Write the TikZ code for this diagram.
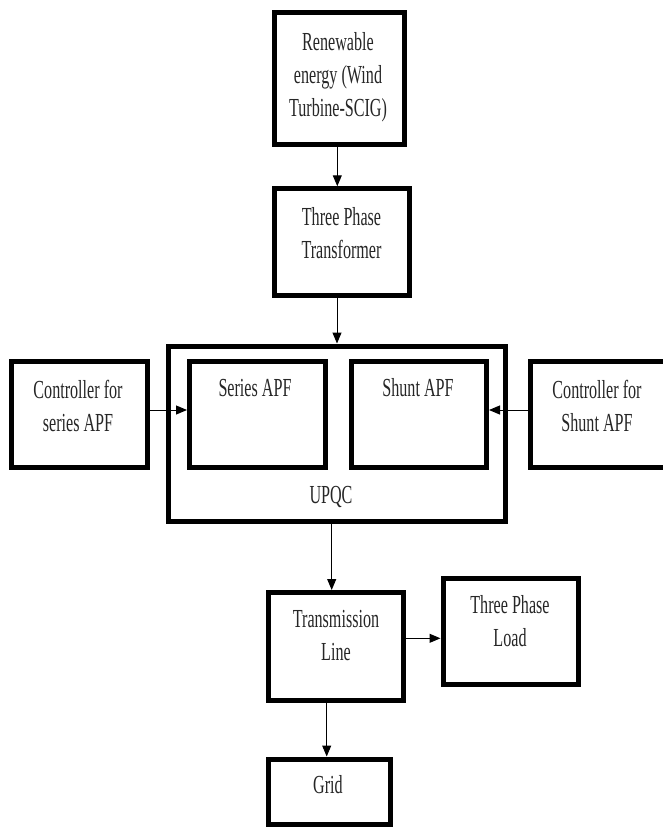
\documentclass[tikz,border=0pt]{standalone}
\usepackage{fontspec}
\setmainfont[FakeStretch=0.62]{Liberation Serif}
\usetikzlibrary{arrows.meta}
\begin{document}
\begin{tikzpicture}[x=1pt,y=-1pt,
  blk/.style={draw=black, line width=5pt, minimum width=#1, inner sep=0pt},
  lbl/.style={align=center, inner sep=0pt, text=black!85, font=\fontsize{26}{33}\selectfont},
  arr/.style={draw=black, line width=1pt, -{Triangle[length=11pt,width=9pt]}}]
\useasboundingbox (0,0) rectangle (662,827);
% boxes
\node[blk=130pt, minimum height=132pt] (ren) at (339,78) {};
\node[blk=135pt, minimum height=106.5pt] (tr) at (341.5,242) {};
\node[blk=336.5pt, minimum height=175pt] (upqc) at (337,433.5) {};
\node[blk=136pt, minimum height=106pt] (cs) at (79,414) {};
\node[blk=136pt, minimum height=106pt] (sapf) at (257.5,414) {};
\node[blk=135.5pt, minimum height=106pt] (shapf) at (418.75,414) {};
\node[blk=136pt, minimum height=106pt] (csh) at (598,414) {};
\node[blk=135pt, minimum height=107.5pt] (tl) at (336,646.25) {};
\node[blk=135pt, minimum height=106pt] (load) at (510.5,631) {};
\node[blk=121.5pt, minimum height=65.5pt] (grid) at (329.25,791.75) {};
% labels
\node[lbl] (renT) at (338,77) {Renewable\\energy (Wind\\Turbine-SCIG)};
\node[lbl] (trT) at (341.5,233) {Three Phase\\Transformer};
\node[lbl] (csT) at (78,406) {Controller for\\series APF};
\node[lbl] (sapfT) at (255,388) {Series APF};
\node[lbl] (shapfT) at (418,388) {Shunt APF};
\node[lbl] (cshT) at (597,406) {Controller for\\Shunt APF};
\node[lbl] (upqcT) at (331,497) {UPQC};
\node[lbl] (tlT) at (336,636) {Transmission\\Line};
\node[lbl] (loadT) at (510,621) {Three Phase\\Load};
\node[lbl] (gridT) at (328,785) {Grid};
% connector positions
\coordinate (xa) at (337.3,0);
\coordinate (xb) at (337,0);
\coordinate (xc) at (331.7,0);
\coordinate (xd) at (326.7,0);
\coordinate (ya) at (0,410);
\coordinate (yb) at (0,638.3);
% connectors
\draw[arr] (ren.south -| xa) -- (tr.north -| xa);
\draw[arr] (tr.south -| xb) -- (upqc.north -| xb);
\draw[arr] (cs.east |- ya) -- (sapf.west |- ya);
\draw[arr] (csh.west |- ya) -- (shapf.east |- ya);
\draw[arr] (upqc.south -| xc) -- (tl.north -| xc);
\draw[arr] (tl.east |- yb) -- (load.west |- yb);
\draw[arr] (tl.south -| xd) -- (grid.north -| xd);
\end{tikzpicture}
\end{document}
